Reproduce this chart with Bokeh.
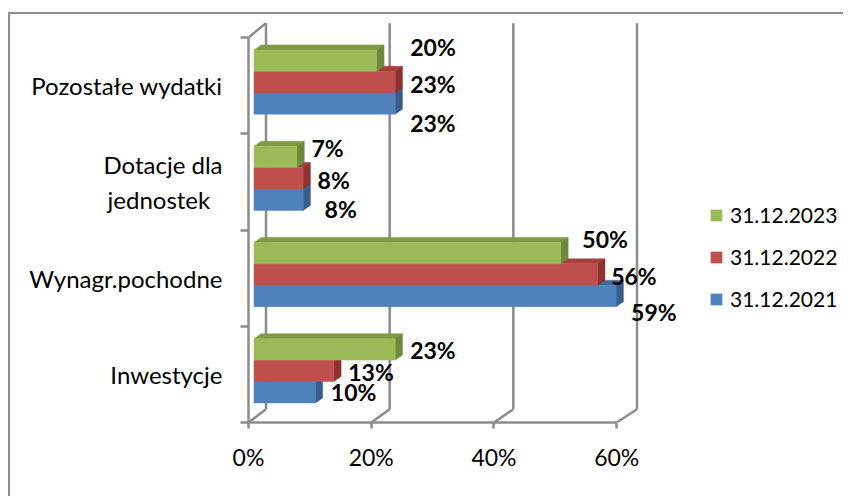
from bokeh.plotting import figure
from bokeh.models import Range1d, FixedTicker, Legend, LegendItem, ColumnDataSource
from bokeh.core.properties import value
from bokeh.embed import file_html
from bokeh.resources import INLINE

# ---------------- data ----------------
categories = ["Inwestycje", "Wynagr.pochodne", "Dotacje dla\njednostek\u00a0\u00a0", "Pozostałe wydatki"]
series_names = ["31.12.2021", "31.12.2022", "31.12.2023"]
v2021 = [10, 59, 8, 23]
v2022 = [13, 56, 8, 23]
v2023 = [23, 50, 7, 20]
x_ticks = [0, 20, 40, 60]
x_tick_labels = ["0%", "20%", "40%", "60%"]

# ---------------- geometry (pixel scale helpers) ----------------
PX = 6.137   # px per percent
PY = 96.25   # px per category unit
FRAME_W, FRAME_H = 595, 406

# 3D wall depth
def back_x(x):
    return x * 1.0075 + 17.5 / PX
WALL_DY = 13.2 / PY

# bar geometry
BAR_X0 = 5.5 / PX
BAR_H = 21.4 / PY
BAR_DX = 7.3 / PX
BAR_DY = 5.0 / PY
GROUP_SHIFT = 3.6 / PY

GRAY = "#8c8c8c"
FONT = "Lato"

colors = {
    "31.12.2021": ("#4F81BD", "#41699B", "#385D8A"),
    "31.12.2022": ("#C0504D", "#A33F3C", "#8C3331"),
    "31.12.2023": ("#9BBB59", "#7E9A45", "#6E8A3A"),
}

# label offsets (px) relative to bar front end / bar centre
label_dx = {
    "31.12.2021": [15.5, 15, 21.5, 15],
    "31.12.2022": [14.5, 13.5, 14.5, 15],
    "31.12.2023": [15, 21.5, 14.5, 33.5],
}
label_dy = {
    "31.12.2021": [0, 16, 9, 20],
    "31.12.2022": [1.5, 1, 2, 1.5],
    "31.12.2023": [1, -14.5, -8.5, -13.5],
}

p = figure(
    frame_width=FRAME_W, frame_height=FRAME_H,
    x_range=Range1d(0, FRAME_W / PX), y_range=Range1d(0, FRAME_H / PY),
    output_backend="svg", toolbar_location=None,
    min_border_left=238, min_border_right=0, min_border_top=2, min_border_bottom=74,
    margin=(12, 0, 0, 8),
    styles={"border-left": "2px solid #8c8c8c", "border-top": "2px solid #8c8c8c"},
)
p.xgrid.grid_line_color = None
p.ygrid.grid_line_color = None
p.outline_line_color = None
p.background_fill_color = "white"
p.border_fill_color = "white"

# ---------------- walls ----------------
bx = [back_x(t) for t in x_ticks]
p.segment(x0=bx, y0=[WALL_DY] * 4, x1=bx, y1=[4 + WALL_DY + 0.012] * 4,
          line_color=GRAY, line_width=2.5)
p.segment(x0=x_ticks, y0=[0] * 4, x1=bx, y1=[WALL_DY] * 4,
          line_color=GRAY, line_width=2.5)
p.segment(x0=[0], y0=[4], x1=[back_x(0)], y1=[4 + WALL_DY + 0.012],
          line_color=GRAY, line_width=2.5)

# ---------------- axes ----------------
xa = p.xaxis[0]
xa.ticker = FixedTicker(ticks=x_ticks)
xa.major_label_overrides = {t: l for t, l in zip(x_ticks, x_tick_labels)}
xa.bounds = (0, 60)
xa.axis_line_color = GRAY
xa.axis_line_width = 2.5
xa.major_tick_line_color = GRAY
xa.major_tick_line_width = 2.5
xa.major_tick_out = 6
xa.major_tick_in = 0
xa.minor_tick_line_color = None
xa.major_label_standoff = 14
xa.major_label_text_font = FONT
xa.major_label_text_font_size = "23px"
xa.major_label_text_color = "black"

cat_pos = [i + 0.5 for i in range(len(categories))]
ya = p.yaxis[0]
ya.ticker = FixedTicker(ticks=cat_pos, minor_ticks=[0, 1, 2, 3, 4])
ya.major_label_overrides = {t: c for t, c in zip(cat_pos, categories)}
ya.bounds = (0, 4)
ya.axis_line_color = GRAY
ya.axis_line_width = 2.5
ya.major_tick_line_color = None
ya.major_tick_out = 0
ya.major_tick_in = 0
ya.minor_tick_line_color = GRAY
ya.minor_tick_line_width = 2.5
ya.minor_tick_out = 8
ya.minor_tick_in = 0
ya.major_label_standoff = 18
ya.major_label_text_font = FONT
ya.major_label_text_font_size = "24px"
ya.major_label_text_color = "black"

# ---------------- 3D bars ----------------
values = {"31.12.2021": v2021, "31.12.2022": v2022, "31.12.2023": v2023}
level = {"31.12.2021": -1, "31.12.2022": 0, "31.12.2023": 1}
front_renderers = {}
label_rows = dict(x=[], y=[], t=[], dx=[], dy=[])

for name in series_names:  # bottom bar first, so upper bars cover its top face
    vals = values[name]
    front_c, top_c, side_c = colors[name]
    centers = [c + GROUP_SHIFT + level[name] * BAR_H for c in cat_pos]
    L = [BAR_X0] * len(vals)
    R = [BAR_X0 + v for v in vals]
    B = [c - BAR_H / 2 for c in centers]
    T = [c + BAR_H / 2 for c in centers]
    top_xs = [[l, r, r + BAR_DX, l + BAR_DX] for l, r in zip(L, R)]
    top_ys = [[t, t, t + BAR_DY, t + BAR_DY] for t in T]
    side_xs = [[r, r, r + BAR_DX, r + BAR_DX] for r in R]
    side_ys = [[b, t, t + BAR_DY, b + BAR_DY] for b, t in zip(B, T)]
    p.patches(xs=top_xs, ys=top_ys, fill_color=top_c, line_color=top_c, line_width=0.5)
    p.patches(xs=side_xs, ys=side_ys, fill_color=side_c, line_color=side_c, line_width=0.5)
    fr = p.quad(left=L, right=R, bottom=B, top=T, fill_color=front_c,
                line_color=front_c, line_width=0.5)
    front_renderers[name] = fr
    for i, v in enumerate(vals):
        label_rows["x"].append(BAR_X0 + v)
        label_rows["y"].append(centers[i])
        label_rows["t"].append(f"{v}%")
        label_rows["dx"].append(label_dx[name][i])
        label_rows["dy"].append(label_dy[name][i])

p.text(x="x", y="y", text="t", x_offset="dx", y_offset="dy",
       source=ColumnDataSource(label_rows),
       text_font=value(FONT), text_font_style="bold", text_font_size="23px",
       text_color="black", text_align="left", text_baseline="middle")

# ---------------- legend ----------------
legend = Legend(
    items=[LegendItem(label=n, renderers=[front_renderers[n]]) for n in reversed(series_names)],
    location=(461, 111),
    padding=0, margin=0, spacing=17,
    glyph_width=14, glyph_height=14, label_height=24, label_standoff=7,
    label_text_font=FONT, label_text_font_size="21px", label_text_color="black",
    border_line_color=None, background_fill_alpha=0,
)
p.add_layout(legend)

open("out.html", "w").write(file_html(p, INLINE))
